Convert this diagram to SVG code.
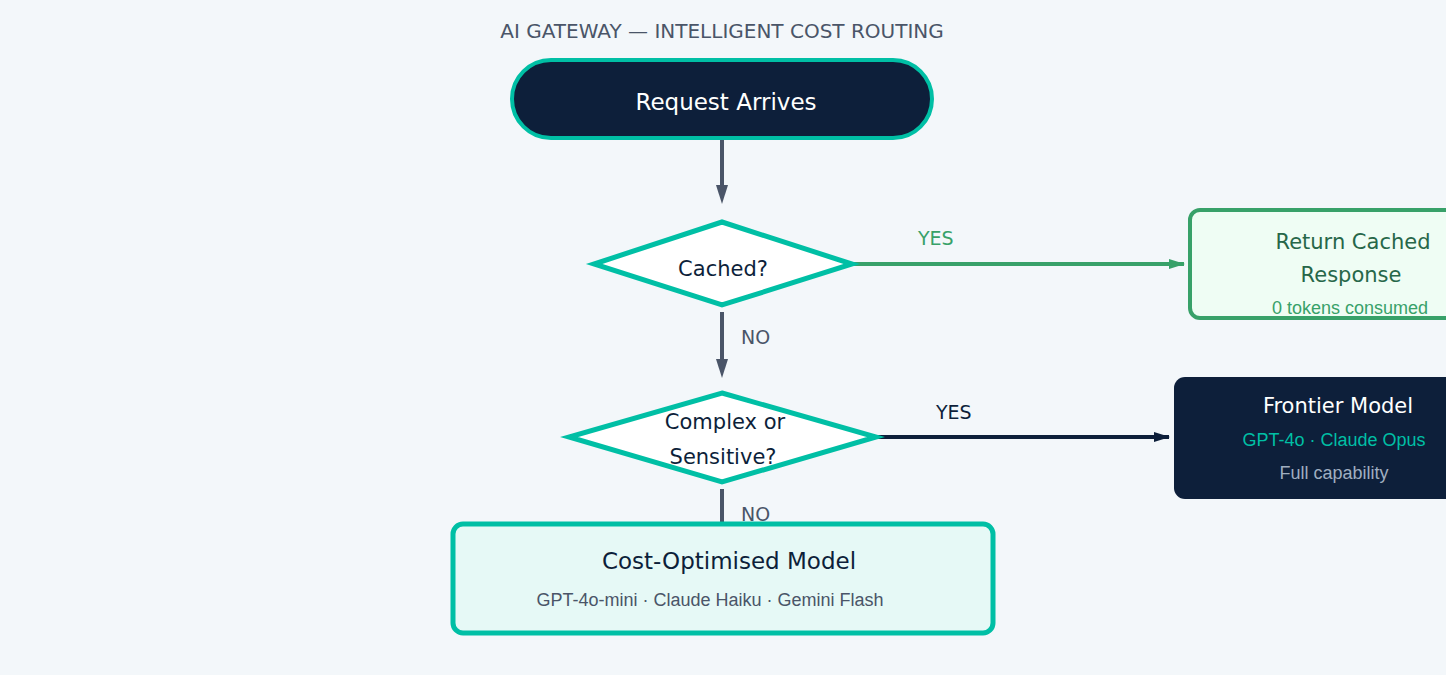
<svg xmlns="http://www.w3.org/2000/svg" width="1446" height="675" viewBox="0 0 1446 675">
<style>
.d{font-family:"DejaVu Sans",sans-serif}
.l{font-family:"Liberation Sans",Arial,sans-serif}
.dia{fill:#fff;stroke:#00bfa5;stroke-width:5}
</style>
<defs>
<marker id="ag" markerWidth="10" markerHeight="10" refX="9" refY="5" orient="auto" markerUnits="userSpaceOnUse"><path d="M0,0 L10,5 L0,10 Z" fill="#4a5568"/></marker>
<marker id="agr" markerWidth="16" markerHeight="10" refX="15" refY="5" orient="auto" markerUnits="userSpaceOnUse"><path d="M0,0 L16,5 L0,10 Z" fill="#38a169"/></marker>
<marker id="an" markerWidth="16" markerHeight="10" refX="15" refY="5" orient="auto" markerUnits="userSpaceOnUse"><path d="M0,0 L16,5 L0,10 Z" fill="#0d1f3a"/></marker>
<marker id="av" markerWidth="12" markerHeight="18" refX="6" refY="17" orient="auto-start-reverse" markerUnits="userSpaceOnUse"><path d="M0,0 L12,0 L6,18 Z" fill="#4a5568"/></marker>
</defs>
<rect width="1446" height="675" fill="#f3f7fa"/>
<text x="722" y="38" text-anchor="middle" class="d" font-size="20" fill="#4a5568">AI GATEWAY — INTELLIGENT COST ROUTING</text>
<g id="connectors">
<line x1="722" y1="138" x2="722" y2="186" stroke="#4a5568" stroke-width="4"/>
<path d="M716,185 L728,185 L722,204 Z" fill="#4a5568"/>
<line x1="722" y1="312" x2="722" y2="360" stroke="#4a5568" stroke-width="4"/>
<path d="M716,359 L728,359 L722,378 Z" fill="#4a5568"/>
<text x="741" y="344" class="d" font-size="19" fill="#4a5568">NO</text>
<line x1="722" y1="489" x2="722" y2="524" stroke="#4a5568" stroke-width="4"/>
<text x="741" y="521" class="d" font-size="19" fill="#4a5568">NO</text>
<line x1="852" y1="264" x2="1184" y2="264" stroke="#38a169" stroke-width="4" marker-end="url(#agr)"/>
<text x="918" y="245" class="d" font-size="19" fill="#38a169">YES</text>
<line x1="876" y1="437" x2="1169" y2="437" stroke="#0d1f3a" stroke-width="4" marker-end="url(#an)"/>
<text x="936" y="419" class="d" font-size="19" fill="#0d1f3a">YES</text>
</g>
<g id="request">
<rect x="512" y="60" width="420" height="78" rx="39" fill="#0d1f3a" stroke="#00bfa5" stroke-width="4"/>
<text x="726" y="110" text-anchor="middle" class="d" font-size="23" fill="#fff">Request Arrives</text>
</g>
<g id="cached">
<polygon class="dia" points="722,222 852,264 722,305 594,264"/>
<text x="723" y="276" text-anchor="middle" class="d" font-size="21" fill="#0d1f3a">Cached?</text>
</g>
<g id="complex">
<polygon class="dia" points="722,393 876,437 722,482 569,437"/>
<text x="725" y="429" text-anchor="middle" class="d" font-size="21" fill="#0d1f3a">Complex or</text>
<text x="723" y="464" text-anchor="middle" class="d" font-size="21" fill="#0d1f3a">Sensitive?</text>
</g>
<g id="return-cached">
<rect x="1190" y="210" width="270" height="108" rx="10" fill="#effdf4" stroke="#38a169" stroke-width="4"/>
<text x="1353" y="249" text-anchor="middle" class="d" font-size="21" fill="#276749">Return Cached</text>
<text x="1351" y="282" text-anchor="middle" class="d" font-size="21" fill="#276749">Response</text>
<text x="1350" y="314" text-anchor="middle" class="l" font-size="18" fill="#38a169">0 tokens consumed</text>
</g>
<g id="frontier">
<rect x="1174" y="377" width="290" height="122" rx="11" fill="#0d1f3a"/>
<text x="1338" y="413" text-anchor="middle" class="d" font-size="21" fill="#fff">Frontier Model</text>
<text x="1334" y="446" text-anchor="middle" class="l" font-size="18" fill="#00bfa5">GPT-4o · Claude Opus</text>
<text x="1334" y="479" text-anchor="middle" class="l" font-size="18" fill="#a0aec0">Full capability</text>
</g>
<g id="cost-optimised">
<rect x="453" y="524" width="540" height="109" rx="10" fill="#e6f9f6" stroke="#00bfa5" stroke-width="5"/>
<text x="729" y="569" text-anchor="middle" class="d" font-size="23" fill="#0d1f3a">Cost-Optimised Model</text>
<text x="710" y="606" text-anchor="middle" class="l" font-size="18" fill="#4a5568">GPT-4o-mini · Claude Haiku · Gemini Flash</text>
</g>
</svg>
